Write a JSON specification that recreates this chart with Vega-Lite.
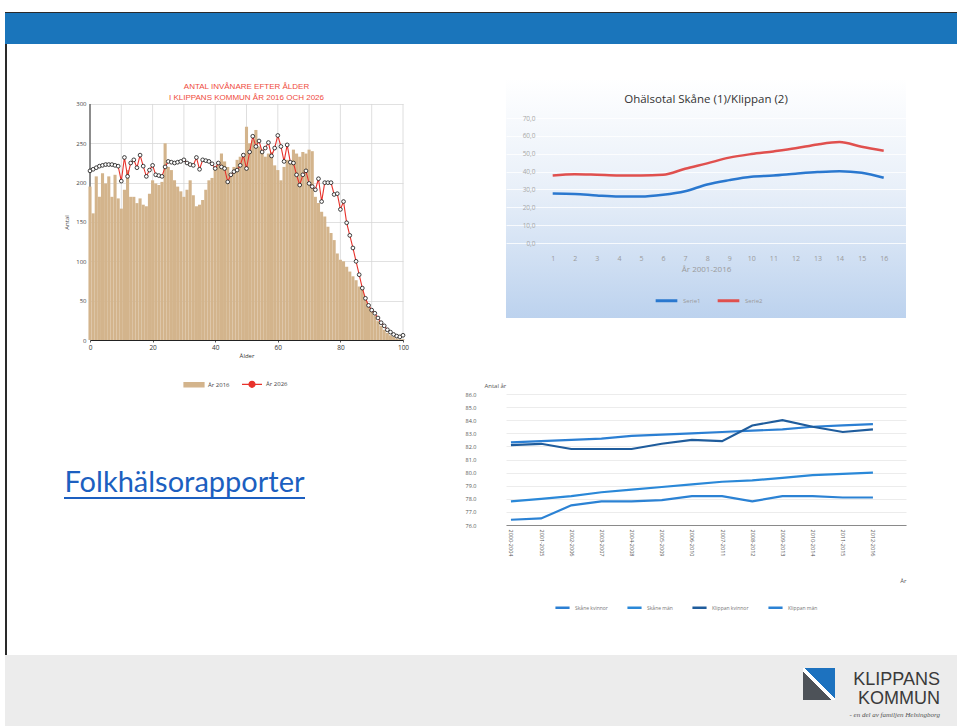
{
  "$schema": "https://vega.github.io/schema/vega-lite/v6.json",
  "padding": {"left": 5, "top": 12, "right": 0, "bottom": 0},
  "background": "#ffffff",
  "spacing": 0,
  "config": {"font": "Open Sans", "view": {"stroke": null}},
  "resolve": {"scale": {"color": "independent"}, "legend": {"color": "independent"}},
  "datasets": {
    "alder2016": [
      {"alder":0,"antal":195},{"alder":1,"antal":161},{"alder":2,"antal":208},{"alder":3,"antal":182},{"alder":4,"antal":212},{"alder":5,"antal":199},{"alder":6,"antal":208},{"alder":7,"antal":182},{"alder":8,"antal":210},{"alder":9,"antal":180},
      {"alder":10,"antal":167},{"alder":11,"antal":191},{"alder":12,"antal":216},{"alder":13,"antal":182},{"alder":14,"antal":182},{"alder":15,"antal":174},{"alder":16,"antal":180},{"alder":17,"antal":172},{"alder":18,"antal":170},{"alder":19,"antal":186},
      {"alder":20,"antal":203},{"alder":21,"antal":199},{"alder":22,"antal":197},{"alder":23,"antal":201},{"alder":24,"antal":250},{"alder":25,"antal":220},{"alder":26,"antal":216},{"alder":27,"antal":203},{"alder":28,"antal":195},{"alder":29,"antal":189},
      {"alder":30,"antal":182},{"alder":31,"antal":191},{"alder":32,"antal":203},{"alder":33,"antal":184},{"alder":34,"antal":170},{"alder":35,"antal":172},{"alder":36,"antal":178},{"alder":37,"antal":191},{"alder":38,"antal":203},{"alder":39,"antal":206},
      {"alder":40,"antal":220},{"alder":41,"antal":225},{"alder":42,"antal":237},{"alder":43,"antal":227},{"alder":44,"antal":220},{"alder":45,"antal":212},{"alder":46,"antal":220},{"alder":47,"antal":229},{"alder":48,"antal":233},{"alder":49,"antal":237},
      {"alder":50,"antal":271},{"alder":51,"antal":250},{"alder":52,"antal":254},{"alder":53,"antal":267},{"alder":54,"antal":246},{"alder":55,"antal":242},{"alder":56,"antal":233},{"alder":57,"antal":237},{"alder":58,"antal":239},{"alder":59,"antal":222},
      {"alder":60,"antal":216},{"alder":61,"antal":203},{"alder":62,"antal":220},{"alder":63,"antal":229},{"alder":64,"antal":225},{"alder":65,"antal":242},{"alder":66,"antal":237},{"alder":67,"antal":233},{"alder":68,"antal":239},{"alder":69,"antal":237},
      {"alder":70,"antal":242},{"alder":71,"antal":240},{"alder":72,"antal":182},{"alder":73,"antal":174},{"alder":74,"antal":163},{"alder":75,"antal":157},{"alder":76,"antal":144},{"alder":77,"antal":136},{"alder":78,"antal":127},{"alder":79,"antal":110},
      {"alder":80,"antal":102},{"alder":81,"antal":100},{"alder":82,"antal":93},{"alder":83,"antal":87},{"alder":84,"antal":81},{"alder":85,"antal":76},{"alder":86,"antal":68},{"alder":87,"antal":64},{"alder":88,"antal":52},{"alder":89,"antal":45},
      {"alder":90,"antal":38},{"alder":91,"antal":31},{"alder":92,"antal":24},{"alder":93,"antal":18},{"alder":94,"antal":13},{"alder":95,"antal":9},{"alder":96,"antal":6},{"alder":97,"antal":4},{"alder":98,"antal":2},{"alder":99,"antal":1},{"alder":100,"antal":1}
    ],
    "alder2026": [
      {"alder":0,"antal":215},{"alder":1,"antal":217},{"alder":2,"antal":219},{"alder":3,"antal":221},{"alder":4,"antal":222},{"alder":5,"antal":223},{"alder":6,"antal":223},{"alder":7,"antal":223},{"alder":8,"antal":222},{"alder":9,"antal":221},
      {"alder":10,"antal":202},{"alder":11,"antal":232},{"alder":12,"antal":208},{"alder":13,"antal":225},{"alder":14,"antal":229},{"alder":15,"antal":219},{"alder":16,"antal":235},{"alder":17,"antal":221},{"alder":18,"antal":208},{"alder":19,"antal":216},
      {"alder":20,"antal":222},{"alder":21,"antal":210},{"alder":22,"antal":209},{"alder":23,"antal":208},{"alder":24,"antal":220},{"alder":25,"antal":227},{"alder":26,"antal":226},{"alder":27,"antal":225},{"alder":28,"antal":226},{"alder":29,"antal":227},
      {"alder":30,"antal":229},{"alder":31,"antal":225},{"alder":32,"antal":223},{"alder":33,"antal":222},{"alder":34,"antal":232},{"alder":35,"antal":217},{"alder":36,"antal":229},{"alder":37,"antal":228},{"alder":38,"antal":227},{"alder":39,"antal":224},
      {"alder":40,"antal":218},{"alder":41,"antal":225},{"alder":42,"antal":220},{"alder":43,"antal":218},{"alder":44,"antal":201},{"alder":45,"antal":210},{"alder":46,"antal":214},{"alder":47,"antal":216},{"alder":48,"antal":222},{"alder":49,"antal":235},
      {"alder":50,"antal":218},{"alder":51,"antal":239},{"alder":52,"antal":259},{"alder":53,"antal":246},{"alder":54,"antal":253},{"alder":55,"antal":239},{"alder":56,"antal":244},{"alder":57,"antal":251},{"alder":58,"antal":234},{"alder":59,"antal":244},
      {"alder":60,"antal":260},{"alder":61,"antal":246},{"alder":62,"antal":227},{"alder":63,"antal":248},{"alder":64,"antal":226},{"alder":65,"antal":225},{"alder":66,"antal":210},{"alder":67,"antal":197},{"alder":68,"antal":210},{"alder":69,"antal":215},
      {"alder":70,"antal":199},{"alder":71,"antal":195},{"alder":72,"antal":191},{"alder":73,"antal":205},{"alder":74,"antal":176},{"alder":75,"antal":200},{"alder":76,"antal":200},{"alder":77,"antal":200},{"alder":78,"antal":185},{"alder":79,"antal":186},
      {"alder":80,"antal":166},{"alder":81,"antal":176},{"alder":82,"antal":149},{"alder":83,"antal":133},{"alder":84,"antal":117},{"alder":85,"antal":100},{"alder":86,"antal":83},{"alder":87,"antal":66},{"alder":88,"antal":53},{"alder":89,"antal":44},
      {"alder":90,"antal":38},{"alder":91,"antal":34},{"alder":92,"antal":28},{"alder":93,"antal":22},{"alder":94,"antal":18},{"alder":95,"antal":13},{"alder":96,"antal":10},{"alder":97,"antal":7},{"alder":98,"antal":5},{"alder":99,"antal":4},{"alder":100,"antal":6}
    ],
    "ohalsotal": [
      {"ar":1,"serie":"Serie1","varde":27.7},{"ar":2,"serie":"Serie1","varde":27.5},{"ar":3,"serie":"Serie1","varde":26.6},{"ar":4,"serie":"Serie1","varde":26.0},{"ar":5,"serie":"Serie1","varde":26.0},{"ar":6,"serie":"Serie1","varde":27.0},{"ar":7,"serie":"Serie1","varde":29.0},{"ar":8,"serie":"Serie1","varde":32.8},
      {"ar":9,"serie":"Serie1","varde":35.2},{"ar":10,"serie":"Serie1","varde":37.1},{"ar":11,"serie":"Serie1","varde":37.8},{"ar":12,"serie":"Serie1","varde":38.8},{"ar":13,"serie":"Serie1","varde":39.7},{"ar":14,"serie":"Serie1","varde":40.2},{"ar":15,"serie":"Serie1","varde":39.3},{"ar":16,"serie":"Serie1","varde":36.5},
      {"ar":1,"serie":"Serie2","varde":37.8},{"ar":2,"serie":"Serie2","varde":38.5},{"ar":3,"serie":"Serie2","varde":38.2},{"ar":4,"serie":"Serie2","varde":37.8},{"ar":5,"serie":"Serie2","varde":37.8},{"ar":6,"serie":"Serie2","varde":38.2},{"ar":7,"serie":"Serie2","varde":41.6},{"ar":8,"serie":"Serie2","varde":44.6},
      {"ar":9,"serie":"Serie2","varde":47.8},{"ar":10,"serie":"Serie2","varde":49.8},{"ar":11,"serie":"Serie2","varde":51.3},{"ar":12,"serie":"Serie2","varde":53.0},{"ar":13,"serie":"Serie2","varde":55.2},{"ar":14,"serie":"Serie2","varde":56.5},{"ar":15,"serie":"Serie2","varde":53.9},{"ar":16,"serie":"Serie2","varde":51.7}
    ],
    "medellivslangd": [
      {"period":"2000-2004","grupp":"Skåne kvinnor","ar":82.3},{"period":"2001-2005","grupp":"Skåne kvinnor","ar":82.4},{"period":"2002-2006","grupp":"Skåne kvinnor","ar":82.5},{"period":"2003-2007","grupp":"Skåne kvinnor","ar":82.6},{"period":"2004-2008","grupp":"Skåne kvinnor","ar":82.8},{"period":"2005-2009","grupp":"Skåne kvinnor","ar":82.9},{"period":"2006-2010","grupp":"Skåne kvinnor","ar":83.0},{"period":"2007-2011","grupp":"Skåne kvinnor","ar":83.1},{"period":"2008-2012","grupp":"Skåne kvinnor","ar":83.2},{"period":"2009-2013","grupp":"Skåne kvinnor","ar":83.3},{"period":"2010-2014","grupp":"Skåne kvinnor","ar":83.5},{"period":"2011-2015","grupp":"Skåne kvinnor","ar":83.6},{"period":"2012-2016","grupp":"Skåne kvinnor","ar":83.7},
      {"period":"2000-2004","grupp":"Skåne män","ar":77.8},{"period":"2001-2005","grupp":"Skåne män","ar":78.0},{"period":"2002-2006","grupp":"Skåne män","ar":78.2},{"period":"2003-2007","grupp":"Skåne män","ar":78.5},{"period":"2004-2008","grupp":"Skåne män","ar":78.7},{"period":"2005-2009","grupp":"Skåne män","ar":78.9},{"period":"2006-2010","grupp":"Skåne män","ar":79.1},{"period":"2007-2011","grupp":"Skåne män","ar":79.3},{"period":"2008-2012","grupp":"Skåne män","ar":79.4},{"period":"2009-2013","grupp":"Skåne män","ar":79.6},{"period":"2010-2014","grupp":"Skåne män","ar":79.8},{"period":"2011-2015","grupp":"Skåne män","ar":79.9},{"period":"2012-2016","grupp":"Skåne män","ar":80.0},
      {"period":"2000-2004","grupp":"Klippan kvinnor","ar":82.1},{"period":"2001-2005","grupp":"Klippan kvinnor","ar":82.2},{"period":"2002-2006","grupp":"Klippan kvinnor","ar":81.8},{"period":"2003-2007","grupp":"Klippan kvinnor","ar":81.8},{"period":"2004-2008","grupp":"Klippan kvinnor","ar":81.8},{"period":"2005-2009","grupp":"Klippan kvinnor","ar":82.2},{"period":"2006-2010","grupp":"Klippan kvinnor","ar":82.5},{"period":"2007-2011","grupp":"Klippan kvinnor","ar":82.4},{"period":"2008-2012","grupp":"Klippan kvinnor","ar":83.6},{"period":"2009-2013","grupp":"Klippan kvinnor","ar":84.0},{"period":"2010-2014","grupp":"Klippan kvinnor","ar":83.5},{"period":"2011-2015","grupp":"Klippan kvinnor","ar":83.1},{"period":"2012-2016","grupp":"Klippan kvinnor","ar":83.3},
      {"period":"2000-2004","grupp":"Klippan män","ar":76.4},{"period":"2001-2005","grupp":"Klippan män","ar":76.5},{"period":"2002-2006","grupp":"Klippan män","ar":77.5},{"period":"2003-2007","grupp":"Klippan män","ar":77.8},{"period":"2004-2008","grupp":"Klippan män","ar":77.8},{"period":"2005-2009","grupp":"Klippan män","ar":77.9},{"period":"2006-2010","grupp":"Klippan män","ar":78.2},{"period":"2007-2011","grupp":"Klippan män","ar":78.2},{"period":"2008-2012","grupp":"Klippan män","ar":77.8},{"period":"2009-2013","grupp":"Klippan män","ar":78.2},{"period":"2010-2014","grupp":"Klippan män","ar":78.2},{"period":"2011-2015","grupp":"Klippan män","ar":78.1},{"period":"2012-2016","grupp":"Klippan män","ar":78.1}
    ]
  },
  "vconcat": [
    {
      "width": 952, "height": 1,
      "data": {"values": []},
      "mark": {"type": "text", "text": ""},
      "view": {"fill": "#2a2a2a", "stroke": null}
    },
    {
      "width": 952, "height": 31,
      "data": {"values": []},
      "mark": {"type": "text", "text": ""},
      "view": {"fill": "#1a75bb", "stroke": null}
    },
    {
      "spacing": 56,
      "resolve": {"scale": {"color": "independent"}, "legend": {"color": "independent"}},
      "hconcat": [
        {
          "width": 2, "height": 611,
          "data": {"values": []},
          "mark": {"type": "text", "text": ""},
          "view": {"fill": "#2a2a2a", "stroke": null}
        },
        {
          "spacing": 0,
          "resolve": {"scale": {"color": "independent"}, "legend": {"color": "independent"}},
          "vconcat": [
            {
              "width": 10, "height": 34,
              "data": {"values": []},
              "mark": {"type": "text", "text": ""}
            },
            {
              "width": 313, "height": 262,
              "title": {"text": ["ANTAL INVÅNARE EFTER ÅLDER", "I KLIPPANS KOMMUN ÅR 2016 OCH 2026"], "color": "#ef4b3c", "fontSize": 8, "fontWeight": "normal", "font": "Liberation Sans", "lineHeight": 11, "anchor": "middle", "frame": "group", "offset": -24},
              "layer": [
                {
                  "data": {"name": "alder2016"},
                  "transform": [{"filter": "datum.alder % 10 == 0 && datum.alder > 0"}],
                  "mark": {"type": "rule", "color": "#d6d6d6", "strokeWidth": 0.8},
                  "encoding": {
                    "x": {"field": "alder", "type": "quantitative", "scale": {"domain": [0, 100], "nice": false, "padding": 0}},
                    "y": {"datum": 0, "type": "quantitative", "scale": {"domain": [0, 333.05], "nice": false}},
                    "y2": {"datum": 300}
                  }
                },
                {
                  "data": {"name": "alder2016"},
                  "transform": [{"filter": "datum.alder == 0"}],
                  "mark": {"type": "rule", "color": "#1a1a1a", "strokeWidth": 1},
                  "encoding": {
                    "x": {"field": "alder", "type": "quantitative", "scale": {"domain": [0, 100], "nice": false, "padding": 0}},
                    "y": {"datum": 0, "type": "quantitative", "scale": {"domain": [0, 333.05], "nice": false}},
                    "y2": {"datum": 300}
                  }
                },
                {
                  "data": {"name": "alder2016"},
                  "mark": {"type": "bar", "size": 3.1},
                  "encoding": {
                    "x": {"field": "alder", "type": "quantitative", "scale": {"domain": [0, 100], "nice": false, "padding": 0},
                      "axis": {"title": "Ålder", "values": [0,10,20,30,40,50,60,70,80,90,100], "grid": false, "labelFlush": false, "domainColor": "#222222", "tickSize": 2, "tickColor": "#555555", "labelFontSize": 6.5, "labelColor": "#333333", "labelPadding": 2, "titleFontSize": 6, "titleFontWeight": "normal", "titleColor": "#333333", "titlePadding": 2}},
                    "y": {"field": "antal", "type": "quantitative", "scale": {"domain": [0, 333.05], "nice": false},
                      "axis": {"title": "Antal", "values": [0,50,100,150,200,250,300], "grid": true, "gridColor": "#d9d9d9", "gridWidth": 0.8, "domain": false, "ticks": false, "labelFontSize": 6, "labelColor": "#444444", "labelPadding": 4, "titleFontSize": 6, "titleFontWeight": "normal", "titleColor": "#444444", "titleY": 144, "titlePadding": 6}},
                    "color": {"datum": "År 2016", "type": "nominal", "scale": {"domain": ["År 2016", "År 2026"], "range": ["#d3b48c", "#e8322b"]},
                      "legend": {"orient": "none", "legendX": 93, "legendY": 295, "direction": "horizontal", "title": null, "symbolSize": 400, "labelFontSize": 6, "labelColor": "#444444", "columnPadding": 9, "labelOffset": 3,
                        "encode": {"symbols": {"update": {
                          "shape": {"signal": "datum.value === 'År 2026' ? 'M-1,0H-0.3M0.3,0H1M0.3,0A0.3,0.3 0 1,1 -0.3,0A0.3,0.3 0 1,1 0.3,0' : 'M-1,-0.22H1V0.22H-1Z'"},
                          "fill": {"signal": "datum.value === 'År 2026' ? '#ffffff' : '#d3b48c'"},
                          "stroke": {"signal": "datum.value === 'År 2026' ? '#e8322b' : '#d3b48c'"},
                          "strokeWidth": {"value": 1.2}
                        }}}}}
                  }
                },
                {
                  "data": {"name": "alder2026"},
                  "mark": {"type": "line", "strokeWidth": 1.1},
                  "encoding": {
                    "x": {"field": "alder", "type": "quantitative", "scale": {"domain": [0, 100], "nice": false, "padding": 0}},
                    "y": {"field": "antal", "type": "quantitative", "scale": {"domain": [0, 333.05], "nice": false}},
                    "color": {"datum": "År 2026", "type": "nominal", "scale": {"domain": ["År 2016", "År 2026"], "range": ["#d3b48c", "#e8322b"]}}
                  }
                },
                {
                  "data": {"name": "alder2026"},
                  "mark": {"type": "point", "filled": true, "fill": "#ffffff", "stroke": "#111111", "strokeWidth": 0.8, "size": 14, "opacity": 1},
                  "encoding": {
                    "x": {"field": "alder", "type": "quantitative", "scale": {"domain": [0, 100], "nice": false, "padding": 0}},
                    "y": {"field": "antal", "type": "quantitative", "scale": {"domain": [0, 333.05], "nice": false}}
                  }
                }
              ]
            },
            {
              "width": 10, "height": 77,
              "data": {"values": []},
              "mark": {"type": "text", "text": ""}
            },
            {
              "width": 215, "height": 31,
              "data": {"values": [{"t": "Folkhälsorapporter"}]},
              "layer": [
                {
                  "mark": {"type": "text", "font": "Lato", "fontSize": 29, "color": "#1c5fc0"},
                  "encoding": {
                    "text": {"field": "t", "type": "nominal"},
                    "x": {"datum": 0.5, "type": "quantitative", "scale": {"domain": [0, 1], "range": [-26, 215]}, "axis": null}
                  }
                },
                {
                  "mark": {"type": "rule", "color": "#1c5fc0", "strokeWidth": 2},
                  "encoding": {
                    "x": {"datum": 0, "type": "quantitative", "scale": {"domain": [0, 1], "range": [-26, 215]}, "axis": null},
                    "x2": {"datum": 1},
                    "y": {"datum": 0, "type": "quantitative", "scale": {"domain": [0, 1]}, "axis": null}
                  }
                }
              ]
            }
          ]
        },
        {
          "spacing": 0,
          "bounds": "flush",
          "resolve": {"scale": {"color": "independent"}, "legend": {"color": "independent"}},
          "vconcat": [
            {
              "width": 10, "height": 34,
              "data": {"values": []},
              "mark": {"type": "text", "text": ""}
            },
            {
              "width": 400, "height": 240,
              "data": {"name": "ohalsotal"},
              "view": {"fill": {"gradient": "linear", "x1": 0, "y1": 0, "x2": 0, "y2": 1, "stops": [{"offset": 0, "color": "#ffffff"}, {"offset": 0.45, "color": "#e9f0f9"}, {"offset": 1, "color": "#bcd2ee"}]}, "stroke": null},
              "title": {"text": "Ohälsotal Skåne (1)/Klippan (2)", "fontSize": 11.5, "fontWeight": "normal", "color": "#333333", "anchor": "middle", "frame": "group", "offset": -27},
              "mark": {"type": "line", "interpolate": "monotone", "strokeWidth": 2.5},
              "encoding": {
                "x": {"field": "ar", "type": "quantitative", "scale": {"domain": [-1.116, 17.01], "nice": false, "zero": false},
                  "axis": {"title": "År 2001-2016", "values": [1,2,3,4,5,6,7,8,9,10,11,12,13,14,15,16], "format": "d", "grid": false, "domain": false, "ticks": false, "offset": -67, "labelPadding": 3, "labelFontSize": 7, "labelColor": "#9a9a9a", "titleFontSize": 8, "titleColor": "#9a9a9a", "titleFontWeight": "normal", "titlePadding": 4}},
                "y": {"field": "varde", "type": "quantitative", "scale": {"domain": [-42, 92.4], "nice": false, "zero": false},
                  "axis": {"title": null, "values": [0,10,20,30,40,50,60,70], "labelExpr": "replace(format(datum.value, '.1f'), '.', ',')", "grid": true, "gridColor": "#ffffff", "gridOpacity": 0.8, "domain": false, "ticks": false, "offset": -31, "labelPadding": 2, "labelFontSize": 6.5, "labelColor": "#a8a8a8"}},
                "color": {"field": "serie", "type": "nominal", "scale": {"domain": ["Serie1", "Serie2"], "range": ["#2a78cf", "#e0504e"]},
                  "legend": {"orient": "none", "legendX": 148, "legendY": 210, "direction": "horizontal", "title": null, "symbolType": "stroke", "symbolStrokeWidth": 3, "symbolSize": 470, "labelFontSize": 6, "labelColor": "#9a9a9a", "columnPadding": 10}}
              }
            },
            {
              "width": 10, "height": 76,
              "data": {"values": []},
              "mark": {"type": "text", "text": ""}
            },
            {
              "width": 400, "height": 131,
              "data": {"name": "medellivslangd"},
              "mark": {"type": "line", "strokeWidth": 2.2},
              "encoding": {
                "x": {"field": "period", "type": "ordinal", "scale": {"type": "point", "padding": 0.63, "align": 0.13},
                  "axis": {"title": "År", "labelAngle": 90, "labelFontSize": 5.5, "labelColor": "#555555", "labelPadding": 4, "ticks": false, "domainColor": "#8a8a8a", "grid": false, "titleFontSize": 6, "titleFontWeight": "normal", "titleColor": "#555555", "titleAnchor": "end", "titleAlign": "right", "titleX": 400, "titleY": 52}},
                "y": {"field": "ar", "type": "quantitative", "scale": {"domain": [76, 86], "nice": false, "zero": false},
                  "axis": {"title": "Antal år", "titleAngle": 0, "titleAlign": "left", "titleBaseline": "middle", "titleX": -22, "titleY": -9, "titleFontSize": 6, "titleFontWeight": "normal", "titleColor": "#555555", "values": [76,77,78,79,80,81,82,83,84,85,86], "format": ".1f", "grid": true, "gridColor": "#ececec", "domain": false, "ticks": false, "labelPadding": 30, "labelFontSize": 5.5, "labelColor": "#555555"}},
                "color": {"field": "grupp", "type": "nominal", "scale": {"domain": ["Skåne kvinnor", "Skåne män", "Klippan kvinnor", "Klippan män"], "range": ["#2b7fd3", "#2a88d8", "#1f5c9c", "#2b82d4"]},
                  "legend": {"orient": "none", "legendX": 48, "legendY": 205, "direction": "horizontal", "title": null, "symbolType": "stroke", "symbolStrokeWidth": 2.5, "symbolSize": 200, "labelFontSize": 5, "labelColor": "#777777", "columnPadding": 14}}
              }
            }
          ]
        }
      ]
    },
    {
      "spacing": 0,
      "hconcat": [
        {
          "width": 798, "height": 71,
          "data": {"values": []},
          "mark": {"type": "text", "text": ""},
          "view": {"fill": "#ececec", "stroke": null}
        },
        {
          "spacing": 0,
          "bounds": "flush",
          "vconcat": [
            {
              "width": 32, "height": 13,
              "data": {"values": []},
              "mark": {"type": "text", "text": ""},
              "view": {"fill": "#ececec", "stroke": null}
            },
            {
              "width": 32, "height": 32,
              "data": {"values": []},
              "mark": {"type": "text", "text": ""},
              "view": {"fill": {"gradient": "linear", "x1": 1, "y1": 0, "x2": 0, "y2": 1, "stops": [{"offset": 0, "color": "#1d72bf"}, {"offset": 0.47, "color": "#1d72bf"}, {"offset": 0.48, "color": "#ffffff"}, {"offset": 0.55, "color": "#ffffff"}, {"offset": 0.56, "color": "#4d5258"}, {"offset": 1, "color": "#4d5258"}]}, "stroke": null}
            },
            {
              "width": 32, "height": 26,
              "data": {"values": []},
              "mark": {"type": "text", "text": ""},
              "view": {"fill": "#ececec", "stroke": null}
            }
          ]
        },
        {
          "width": 122, "height": 71,
          "data": {"values": []},
          "mark": {"type": "text", "text": ""},
          "view": {"fill": "#ececec", "stroke": null},
          "title": {"text": ["KLIPPANS", "KOMMUN"], "subtitle": "- en del av familjen Helsingborg", "anchor": "end", "frame": "group", "orient": "top", "offset": -63, "dx": -17, "font": "Liberation Sans", "fontSize": 18, "fontWeight": "normal", "lineHeight": 19, "color": "#3a3a3a", "subtitleFont": "Liberation Serif", "subtitleFontStyle": "italic", "subtitleFontSize": 7, "subtitleColor": "#555555", "subtitlePadding": 3}
        }
      ]
    }
  ]
}
